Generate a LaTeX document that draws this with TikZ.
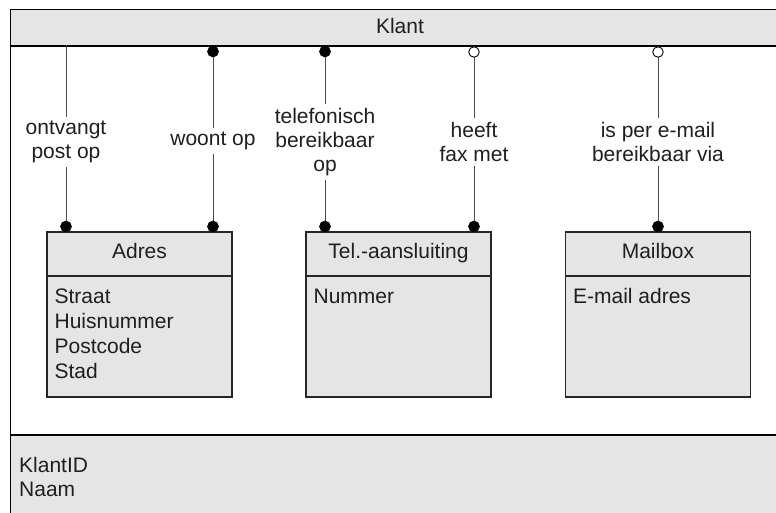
\documentclass[tikz,border=0pt]{standalone}
\usepackage{fontspec}
\setmainfont{Liberation Sans}
\begin{document}
\begin{tikzpicture}[x=1pt,y=-1pt,
  txt/.style={inner sep=0pt,text=black!88,font=\fontsize{21}{24}\selectfont},
  lbl/.style={txt,align=center,fill=white,inner xsep=1pt,inner ysep=4pt},
  entity/.style={draw=black!85,line width=1.2pt,fill=black!10,minimum width=185pt,minimum height=165pt,inner sep=0pt},
  link/.style={draw=black!70,line width=1pt},
  must/.style={circle,fill=black,draw=black,line width=0.6pt,inner sep=0pt,minimum size=11pt},
  may/.style={circle,fill=white,draw=black,line width=0.9pt,inner sep=0pt,minimum size=10.5pt}]
\useasboundingbox (0,0) rectangle (776,512);
\clip (0,0) rectangle (776,512);

% outer Klant frame: header band, body, attribute band
\fill[black!10] (10.5,9.5) rectangle (790,46);
\fill[black!10] (10.5,435) rectangle (790,530);
\draw[line width=1.8pt] (790,9.5) -- (10.5,9.5) -- (10.5,530);
\draw[line width=1.8pt] (10.5,46) -- (790,46);
\draw[line width=1.8pt] (10.5,435) -- (790,435);
\node[txt,anchor=base] (klant) at (400,33) {Klant};
\node[txt,anchor=base west] (klantid) at (19,472) {KlantID};
\node[txt,anchor=base west] (naam) at (19,496) {Naam};

% entity boxes
\node[entity] (adres) at (139.5,314.5) {};
\node[entity] (tel) at (398.5,314.5) {};
\node[entity] (mail) at (658,314.5) {};
\foreach \b in {adres,tel,mail}
  \draw[black!85,line width=1.2pt] (\b.west |- 0,276) -- (\b.east |- 0,276);

\node[txt,anchor=base] (adrest) at (adres.center |- 0,258) {Adres};
\node[txt,anchor=base] (telt) at (tel.center |- 0,258) {Tel.-aansluiting};
\node[txt,anchor=base] (mailt) at (mail.center |- 0,258) {Mailbox};

\node[txt,anchor=base west] (straat) at ([xshift=8pt]adres.west |- 0,303) {Straat};
\node[txt,anchor=base west] (huisnr) at ([xshift=8pt]adres.west |- 0,328) {Huisnummer};
\node[txt,anchor=base west] (postcode) at ([xshift=8pt]adres.west |- 0,353) {Postcode};
\node[txt,anchor=base west] (stad) at ([xshift=8pt]adres.west |- 0,378) {Stad};
\node[txt,anchor=base west] (tela) at ([xshift=8pt]tel.west |- 0,303) {Nummer};
\node[txt,anchor=base west] (maila) at ([xshift=8pt]mail.west |- 0,303) {E-mail adres};

% relationship lines
\coordinate (k1) at (66,46);  \coordinate (a1) at (66,232);
\coordinate (k2) at (213,46); \coordinate (a2) at (213,232);
\coordinate (k3) at (325,46); \coordinate (t3) at (325,232);
\coordinate (k4) at (474,46); \coordinate (t4) at (474,232);
\coordinate (k5) at (658,46); \coordinate (m5) at (658,232);
\foreach \p/\q in {k1/a1,k2/a2,k3/t3,k4/t4,k5/m5}
  \draw[link] (\p) -- (\q);

\node[lbl] (r1) at (66,142) {ontvangt\\post op};
\node[lbl] (r2) at (213,141) {woont op};
\node[lbl] (r3) at (325,142) {telefonisch\\bereikbaar\\op};
\node[lbl] (r4) at (474,142) {heeft\\fax met};
\node[lbl] (r5) at (658,142) {is per e-mail\\bereikbaar via};

% cardinality marks
\node[must] (d2t) at (213,51.5) {};
\node[must] (d3t) at (325,51.5) {};
\node[may]  (d4t) at (474,52) {};
\node[may]  (d5t) at (658,52) {};
\node[must] (d1b) at (66,226.5) {};
\node[must] (d2b) at (213,226.5) {};
\node[must] (d3b) at (325,226.5) {};
\node[must] (d4b) at (474,226.5) {};
\node[must] (d5b) at (658,226.5) {};
\end{tikzpicture}
\end{document}
